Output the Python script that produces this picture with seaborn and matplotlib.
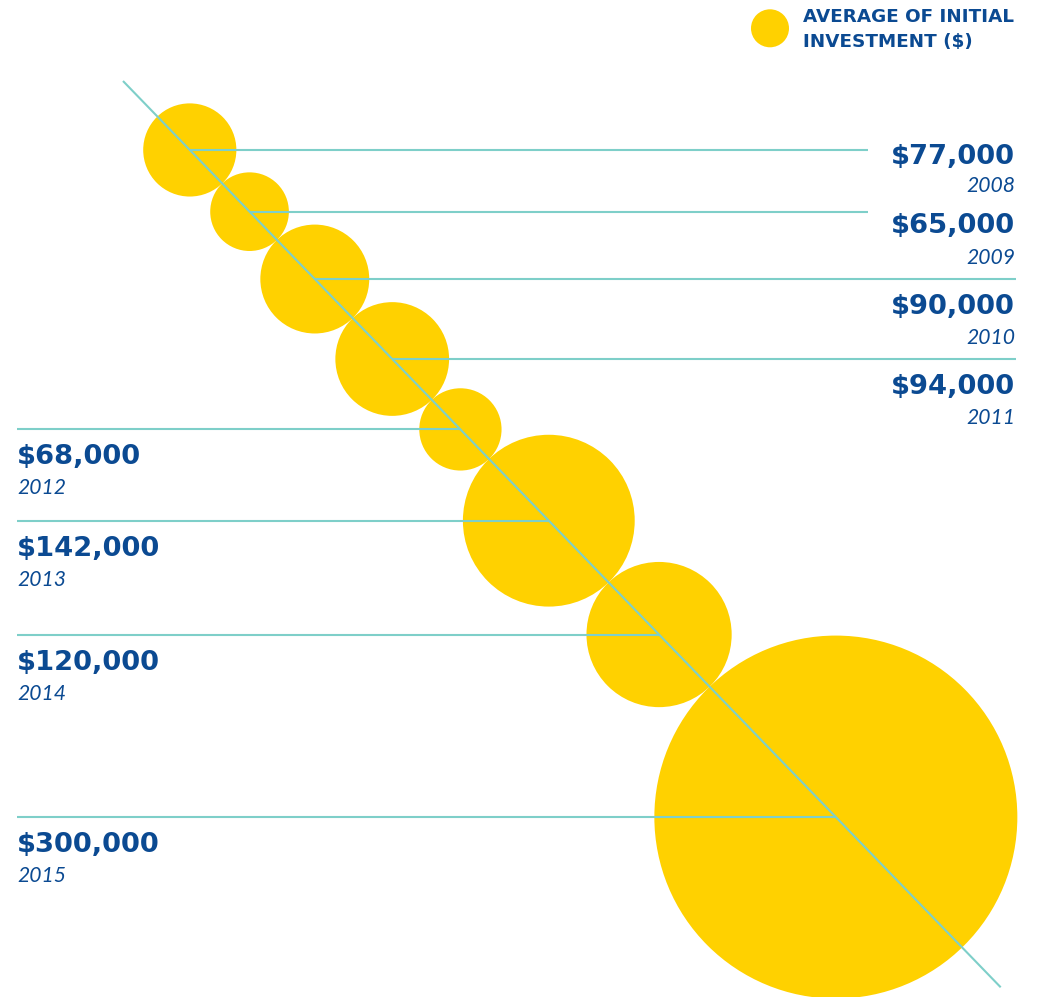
import numpy as np
import pandas as pd
import matplotlib
matplotlib.use("Agg")
import matplotlib.pyplot as plt
import seaborn as sns

# ---- data -------------------------------------------------------------
years = [2008, 2009, 2010, 2011, 2012, 2013, 2014, 2015]
investment = [77000, 65000, 90000, 94000, 68000, 142000, 120000, 300000]
label_side = ["right", "right", "right", "right", "left", "left", "left", "left"]
legend_lines = ["AVERAGE OF INITIAL", "INVESTMENT ($)"]

# ---- layout (canvas pixels) --------------------------------------------
W, H, DPI = 1038, 997, 100
PX_PER_DOLLAR = 0.605 / 1000          # circle radius per dollar
DIAG_START = np.array([123.0, 81.0])
DIAG_END = np.array([1000.7, 987.3])
FIRST_CENTER_OFFSET = 96.0            # distance of first centre along the diagonal
LEFT_X, RIGHT_X = 17, 1016
# baseline of value / year text below each guide line
value_offset = [14, 21, 35, 35, 35, 35, 35, 35]
year_offset = [42, 52, 65, 65, 65, 65, 65, 65]
# right-hand guide lines stop short where the label sits on the line
right_line_end = [868, 868, RIGHT_X, RIGHT_X, None, None, None, None]

YELLOW = "#FFD100"
TEAL = "#7ECFC9"
BLUE = "#0B4A92"

sns.set_style("white")
plt.rcParams["font.family"] = ["DejaVu Sans"]

# Circles are strung tangent to each other along the diagonal
radii = np.asarray(investment, dtype=float) * PX_PER_DOLLAR
direction = (DIAG_END - DIAG_START) / np.linalg.norm(DIAG_END - DIAG_START)
steps = np.concatenate([[0.0], np.cumsum(radii[:-1] + radii[1:])])
along = FIRST_CENTER_OFFSET + steps
cx = DIAG_START[0] + along * direction[0]
cy = DIAG_START[1] + along * direction[1]

df = pd.DataFrame({"year": years, "investment": investment, "x": cx, "y": cy})

def marker_area(r_px):
    d_pt = 2 * r_px * 72.0 / DPI
    return d_pt ** 2

area_map = {v: marker_area(v * PX_PER_DOLLAR) for v in investment}

fig = plt.figure(figsize=(W / DPI, H / DPI), dpi=DPI)
ax = fig.add_axes([0, 0, 1, 1])
ax.set_xlim(0, W)
ax.set_ylim(H, 0)
ax.axis("off")

sns.scatterplot(data=df, x="x", y="y", size="investment", sizes=area_map,
                color=YELLOW, edgecolor="none", linewidth=0, legend=False,
                ax=ax, zorder=2)

# diagonal spine
ax.plot([DIAG_START[0], DIAG_END[0]], [DIAG_START[1], DIAG_END[1]],
        color=TEAL, lw=1.5, zorder=3, solid_capstyle="butt")

for i, (yr, val, side) in enumerate(zip(years, investment, label_side)):
    x_c, y_c = cx[i], cy[i]
    if side == "right":
        ax.plot([x_c, right_line_end[i]], [y_c, y_c], color=TEAL, lw=1.5,
                zorder=3, solid_capstyle="butt")
        tx, ha = RIGHT_X - 1, "right"
    else:
        ax.plot([LEFT_X, x_c], [y_c, y_c], color=TEAL, lw=1.5,
                zorder=3, solid_capstyle="butt")
        tx, ha = LEFT_X, "left"
    ax.text(tx, y_c + value_offset[i], f"${val:,}", ha=ha, va="baseline",
            fontsize=19.7, fontweight="bold", color=BLUE)
    ax.text(tx, y_c + year_offset[i], str(yr), ha=ha, va="baseline",
            fontsize=15.2, fontstyle="italic", fontweight="normal",
            family=["Lato", "DejaVu Sans"], color=BLUE)

# legend key
sns.scatterplot(x=[770.0], y=[28.3], s=marker_area(19), color=YELLOW,
                edgecolor="none", linewidth=0, legend=False, ax=ax, zorder=2)
for j, line in enumerate(legend_lines):
    ax.text(803, 21.7 + 25 * j, line, ha="left", va="baseline",
            fontsize=13.2, fontweight="bold", color=BLUE)

fig.savefig("out.png", dpi=DPI)
